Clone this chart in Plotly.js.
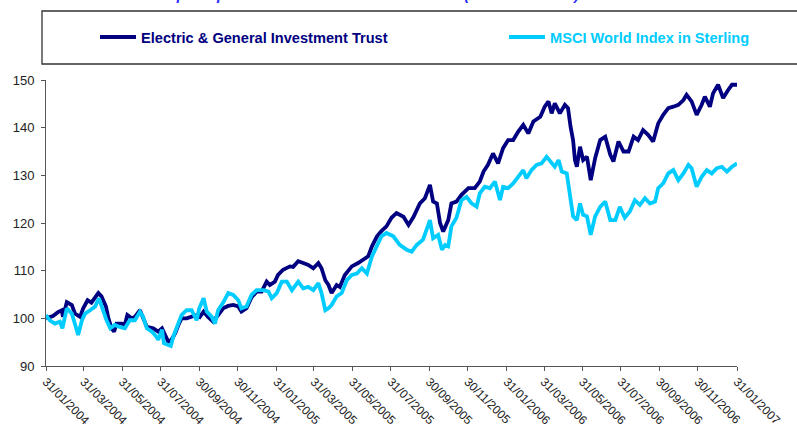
<!DOCTYPE html>
<html>
<head>
<meta charset="utf-8">
<script src="https://cdn.plot.ly/plotly-3.0.1.min.js"></script>
<style>html,body{margin:0;padding:0;background:#fff;}#chart{width:797px;height:431px;}</style>
</head>
<body>
<div id="chart"></div>
<script>
// Electric & General Investment Trust (rebased to 100)
const egDates = ['2004-01-31','2004-02-11','2004-02-19','2004-02-25','2004-02-27','2004-03-04','2004-03-12','2004-03-17','2004-03-25','2004-03-30',
'2004-04-06','2004-04-12','2004-04-23','2004-04-28','2004-05-05','2004-05-09','2004-05-14','2004-05-18','2004-05-22','2004-05-30',
'2004-06-04','2004-06-08','2004-06-15','2004-06-20','2004-06-28','2004-07-04','2004-07-09','2004-07-19','2004-07-27','2004-08-02',
'2004-08-07','2004-08-12','2004-08-17','2004-08-23','2004-08-28','2004-09-02','2004-09-10','2004-09-18','2004-09-26','2004-10-01',
'2004-10-07','2004-10-14','2004-10-22','2004-10-30','2004-11-07','2004-11-15','2004-11-23','2004-12-01','2004-12-06','2004-12-14',
'2004-12-22','2004-12-30','2005-01-07','2005-01-15','2005-01-20','2005-01-28','2005-02-02','2005-02-10','2005-02-21','2005-02-26',
'2005-03-06','2005-03-14','2005-03-22','2005-03-30','2005-04-07','2005-04-12','2005-04-18','2005-04-23','2005-04-28','2005-05-06',
'2005-05-11','2005-05-19','2005-05-30','2005-06-09','2005-06-17','2005-06-25','2005-07-01','2005-07-09','2005-07-16','2005-07-24',
'2005-08-01','2005-08-09','2005-08-20','2005-08-28','2005-09-05','2005-09-15','2005-09-23','2005-10-01','2005-10-06','2005-10-12',
'2005-10-17','2005-10-22','2005-10-30','2005-11-04','2005-11-12','2005-11-20','2005-12-01','2005-12-11','2005-12-19','2005-12-25',
'2006-01-01','2006-01-09','2006-01-17','2006-01-25','2006-02-02','2006-02-10','2006-02-18','2006-02-26','2006-03-06','2006-03-14',
'2006-03-25','2006-04-01','2006-04-07','2006-04-12','2006-04-17','2006-04-25','2006-05-03','2006-05-08','2006-05-12','2006-05-16',
'2006-05-19','2006-05-22','2006-05-27','2006-06-01','2006-06-07','2006-06-13','2006-06-20','2006-06-28','2006-07-06','2006-07-14',
'2006-07-19','2006-07-27','2006-08-04','2006-08-12','2006-08-20','2006-08-27','2006-09-04','2006-09-12','2006-09-20','2006-09-28',
'2006-10-06','2006-10-14','2006-10-22','2006-10-30','2006-11-07','2006-11-12','2006-11-20','2006-11-28','2006-12-06','2006-12-11',
'2006-12-19','2006-12-24','2007-01-01','2007-01-09','2007-01-17','2007-01-23','2007-01-31'];
const egValues = [100.0,100.5,101.3,101.7,100.3,103.4,102.8,101.0,100.3,102.1,
103.8,103.3,105.3,104.6,102.5,100.0,97.9,97.2,98.9,98.9,
98.6,100.7,100.0,100.3,101.7,99.6,98.2,97.9,97.2,97.9,
96.5,95.1,95.5,96.9,98.6,100.0,100.0,100.3,100.7,100.3,
101.4,100.3,99.3,100.7,102.1,102.6,102.8,102.5,101.4,102.1,
104.4,105.6,105.6,107.7,107.0,107.7,109.1,110.2,110.9,110.8,
112.0,111.6,111.2,110.5,111.6,110.5,108.0,107.0,105.3,107.0,
106.6,109.1,110.9,111.6,112.3,113.0,115.1,117.2,118.3,119.3,
121.1,122.1,121.3,119.6,121.3,124.1,125.2,128.0,124.5,124.1,
120.0,118.2,120.6,124.1,124.5,125.9,127.3,127.3,128.7,130.8,
132.2,134.6,132.5,135.7,137.4,137.4,139.2,140.6,138.8,141.3,
142.3,144.4,145.5,143.0,145.1,143.0,144.8,144.1,140.2,137.4,
133.2,131.8,136.0,133.2,133.9,129.0,133.6,137.4,138.1,134.3,
132.9,137.1,135.0,135.0,138.1,137.4,139.5,138.5,137.1,140.9,
142.7,144.1,144.4,144.8,145.8,146.9,145.5,142.7,144.8,146.5,
144.4,147.2,149.0,146.2,147.9,149.0,149.0];

// MSCI World Index in Sterling (rebased to 100)
const msciDates = ['2004-01-31','2004-02-06','2004-02-14','2004-02-22','2004-02-26','2004-03-04','2004-03-12','2004-03-17','2004-03-22','2004-03-28',
'2004-04-02','2004-04-10','2004-04-18','2004-04-24','2004-05-01','2004-05-06','2004-05-12','2004-05-19','2004-05-27','2004-06-04',
'2004-06-12','2004-06-20','2004-06-28','2004-07-03','2004-07-09','2004-07-17','2004-07-22','2004-07-27','2004-08-02','2004-08-05',
'2004-08-12','2004-08-16','2004-08-20','2004-08-28','2004-09-02','2004-09-10','2004-09-18','2004-09-26','2004-09-30','2004-10-07',
'2004-10-12','2004-10-20','2004-10-25','2004-10-30','2004-11-07','2004-11-15','2004-11-23','2004-12-01','2004-12-06','2004-12-14',
'2004-12-22','2004-12-30','2005-01-10','2005-01-18','2005-01-23','2005-01-31','2005-02-08','2005-02-16','2005-02-24','2005-03-06',
'2005-03-14','2005-03-22','2005-03-30','2005-04-07','2005-04-12','2005-04-18','2005-04-23','2005-04-28','2005-05-06','2005-05-14',
'2005-05-22','2005-05-30','2005-06-07','2005-06-15','2005-06-23','2005-07-01','2005-07-09','2005-07-16','2005-07-24','2005-08-04',
'2005-08-14','2005-08-25','2005-09-02','2005-09-10','2005-09-20','2005-10-01','2005-10-06','2005-10-14','2005-10-20','2005-10-25',
'2005-10-30','2005-11-04','2005-11-12','2005-11-20','2005-11-28','2005-12-06','2005-12-14','2005-12-19','2005-12-27','2006-01-04',
'2006-01-12','2006-01-20','2006-01-25','2006-02-02','2006-02-10','2006-02-18','2006-02-26','2006-03-03','2006-03-11','2006-03-19',
'2006-03-27','2006-04-04','2006-04-09','2006-04-17','2006-04-23','2006-04-28','2006-05-06','2006-05-11','2006-05-16','2006-05-22',
'2006-05-27','2006-06-01','2006-06-07','2006-06-13','2006-06-20','2006-06-28','2006-07-06','2006-07-14','2006-07-22','2006-07-29',
'2006-08-06','2006-08-14','2006-08-22','2006-08-30','2006-09-07','2006-09-15','2006-09-23','2006-09-28','2006-10-06','2006-10-14',
'2006-10-22','2006-10-30','2006-11-07','2006-11-15','2006-11-20','2006-11-28','2006-12-06','2006-12-14','2006-12-22','2006-12-30',
'2007-01-07','2007-01-15','2007-01-23','2007-01-31'];
const msciValues = [100.7,99.6,98.9,99.3,97.9,102.1,101.0,98.9,96.5,99.6,
101.0,101.7,102.5,104.2,101.4,99.6,97.9,98.6,98.2,97.9,
99.6,99.6,101.4,100.3,97.9,97.2,96.5,95.5,97.6,94.8,
94.4,94.2,96.2,98.9,100.7,101.7,101.7,99.6,102.1,104.2,
101.4,100.3,98.9,101.7,103.3,105.3,104.9,103.8,102.1,102.5,
104.9,105.9,105.9,105.6,104.2,105.3,107.7,107.7,105.9,107.7,
106.3,106.6,105.9,107.4,105.3,101.7,102.1,102.8,104.6,105.3,
108.0,109.1,109.4,110.5,109.4,113.0,115.4,117.2,117.9,117.2,
115.4,114.4,114.0,115.4,116.5,120.6,116.8,117.5,114.4,115.4,
115.1,119.3,121.1,124.8,125.5,124.1,123.4,126.2,127.6,127.3,
128.7,124.8,127.6,127.3,128.3,129.7,131.1,129.4,131.1,132.2,
132.5,133.9,133.2,131.8,133.2,130.8,130.4,126.2,121.4,120.6,
124.1,121.7,121.4,117.5,121.4,123.4,124.5,120.6,120.6,123.4,
121.1,122.4,124.8,123.8,125.2,124.1,124.5,127.3,128.3,130.4,
131.1,129.0,130.4,132.2,131.5,127.6,129.7,131.1,130.4,131.5,
131.8,130.8,131.8,132.5];

const tickDates = ['2004-01-31','2004-03-31','2004-05-31','2004-07-31','2004-09-30','2004-11-30',
'2005-01-31','2005-03-31','2005-05-31','2005-07-31','2005-09-30','2005-11-30',
'2006-01-31','2006-03-31','2006-05-31','2006-07-31','2006-09-30','2006-11-30','2007-01-31'];
const tickLabels = ['31/01/2004','31/03/2004','31/05/2004','31/07/2004','30/09/2004','30/11/2004',
'31/01/2005','31/03/2005','31/05/2005','31/07/2005','30/09/2005','30/11/2005',
'31/01/2006','31/03/2006','31/05/2006','31/07/2006','30/09/2006','30/11/2006','31/01/2007'];
const yTicks = [90,100,110,120,130,140,150];

const seriesNames = ['Electric & General Investment Trust','MSCI World Index in Sterling'];
const navy = '#000080', cyan = '#00CCFF';
const FONT = 'Liberation Sans, Arial, sans-serif';

const traces = [
  {x: egDates, y: egValues, type: 'scatter', mode: 'lines', legend: 'legend',
   name: '<b><span style="color:' + navy + '">' + seriesNames[0] + '</span></b>',
   line: {color: navy, width: 3.8}},
  {x: msciDates, y: msciValues, type: 'scatter', mode: 'lines', legend: 'legend2',
   name: '<b><span style="color:' + cyan + '">' + seriesNames[1] + '</span></b>',
   line: {color: cyan, width: 3.8}}
];

const legendBase = {orientation: 'h', xanchor: 'left', y: 1 + 43/286, yanchor: 'middle',
  bgcolor: 'rgba(0,0,0,0)', font: {family: FONT, size: 14.6}, itemwidth: 36};

const layout = {
  width: 797, height: 431,
  margin: {l: 46, r: 60, t: 80, b: 65, pad: 0},
  paper_bgcolor: '#fff', plot_bgcolor: '#fff',
  font: {family: FONT, size: 12, color: '#222'},
  showlegend: true,
  legend: Object.assign({}, legendBase, {x: (95 - 46) / 691}),
  legend2: Object.assign({}, legendBase, {x: (504 - 46) / 691}),
  xaxis: {type: 'date', range: ['2004-01-31', '2007-01-31'],
          tickmode: 'array', tickvals: tickDates, ticktext: tickLabels,
          tickangle: 45, tickfont: {family: FONT, size: 12, color: '#222'}, ticklabelstandoff: -1,
          ticks: 'outside', ticklen: 4, tickcolor: '#555', showgrid: false, zeroline: false,
          showline: true, linecolor: '#555', linewidth: 1},
  yaxis: {range: [90, 150], tickmode: 'array', tickvals: yTicks,
          tickfont: {family: FONT, size: 13, color: '#222'}, ticklabelstandoff: 4,
          ticks: 'outside', ticklen: 4, tickcolor: '#555', showgrid: false, zeroline: false,
          showline: true, linecolor: '#555', linewidth: 1},
  shapes: [{type: 'rect', xref: 'paper', yref: 'paper',
            x0: -0.0058, x1: 1.2, y0: 1 + 16/286, y1: 1 + 69/286,
            line: {color: '#333', width: 1.3}, fillcolor: 'rgba(0,0,0,0)', layer: 'below'}],
  annotations: [{text: '<b><i>Share price performance vs MSCI World Index (rebased to 100) 2004 - 2007</i></b>',
                 xref: 'paper', yref: 'paper', x: 0.508, xanchor: 'center',
                 y: 1 + 75/286, yanchor: 'bottom', showarrow: false,
                 font: {family: FONT, size: 15, color: '#2B2BFF'}}]
};

Plotly.newPlot('chart', traces, layout, {displayModeBar: false, staticPlot: true});
</script>
</body>
</html>
